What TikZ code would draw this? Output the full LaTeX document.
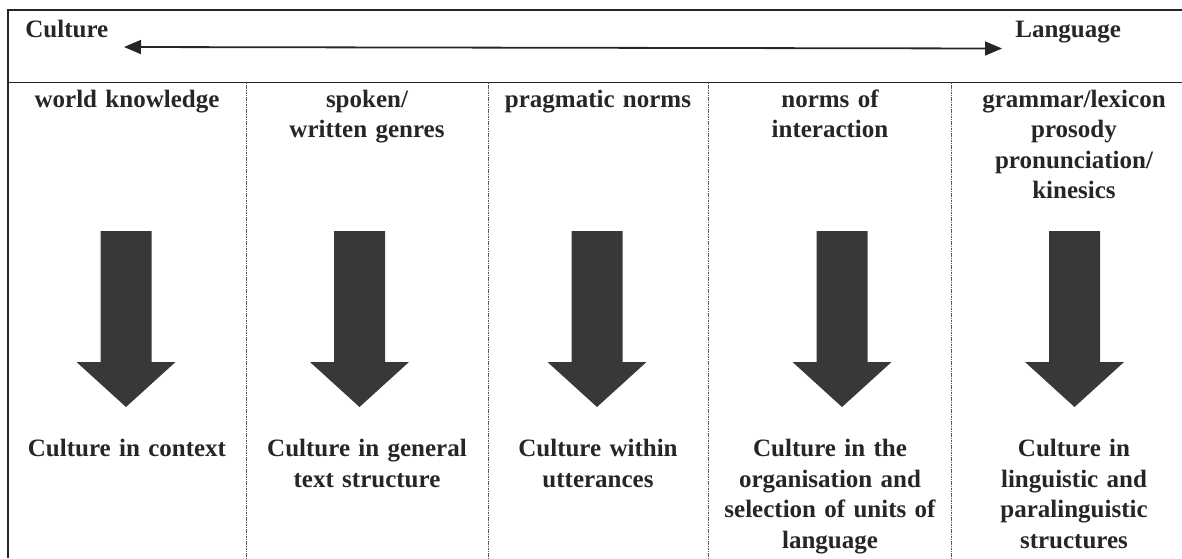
\documentclass[tikz,border=0pt]{standalone}
\usepackage{fontspec}
\setmainfont{Liberation Serif}
\usetikzlibrary{arrows.meta}
\definecolor{ink}{HTML}{262626}
\definecolor{arrowfill}{HTML}{383838}
\definecolor{divline}{HTML}{555555}
\begin{document}
\begin{tikzpicture}[x=0.5pt,y=-0.5pt,
  lab/.style={font=\bfseries\fontsize{12.5}{15.25}\selectfont, text=ink, inner sep=0pt,
              text width=118pt, align=center, anchor=base},
  endlab/.style={font=\bfseries\fontsize{12.5}{15.25}\selectfont, text=ink, inner sep=0pt, anchor=base west},
  frame/.style={draw=ink, line width=0.9pt},
  coldiv/.style={draw=divline, line width=0.5pt, dash pattern=on 0.8pt off 0.4pt},
  blockarrow/.style={fill=arrowfill},
  scalearrow/.style={draw=ink, line width=0.9pt, {Triangle[length=8.5pt,width=7pt]}-{Triangle[length=8.5pt,width=7pt]}}]
\useasboundingbox (0,0) rectangle (1182,558);
% frame
\draw[frame] (1182,10) -- (8,10) -- (8,558);
\draw[frame] (8,82.5) -- (1182,82.5);
\foreach \xx in {246,488,708,951} {
  \draw[coldiv] (\xx,82.5) -- (\xx,558);
}
% top row
\node[endlab] (culture) at (25,37) {Culture};
\node[endlab] (language) at (1015,37) {Language};
\coordinate (sl) at (124,47);
\coordinate (sr) at (1002,48.5);
\draw[scalearrow] (sl) -- (sr);
% headers
\node[lab] (h1) at (127,107) {world knowledge};
\node[lab] (h2) at (367,107) {spoken/\\written genres};
\node[lab] (h3) at (598,107) {pragmatic norms};
\node[lab] (h4) at (830,107) {norms of\\interaction};
\node[lab] (h5) at (1074,107) {grammar/lexicon\\prosody\\pronunciation/\\kinesics};
% block arrows
\foreach \c in {126,359.5,597,842,1074.5} {
  \fill[blockarrow] ({\c-25.5},231) -- ({\c+25.5},231) -- ({\c+25.5},362) -- ({\c+49.5},362)
     -- (\c,407) -- ({\c-49.5},362) -- ({\c-25.5},362) -- cycle;
}
% results
\node[lab] (r1) at (127,456.5) {Culture in context};
\node[lab] (r2) at (367,456.5) {Culture in general\\text structure};
\node[lab] (r3) at (598,456.5) {Culture within\\utterances};
\node[lab] (r4) at (830,456.5) {Culture in the\\organisation and\\selection of units of\\language};
\node[lab] (r5) at (1074,456.5) {Culture in\\linguistic and\\paralinguistic\\structures};
\end{tikzpicture}
\end{document}
